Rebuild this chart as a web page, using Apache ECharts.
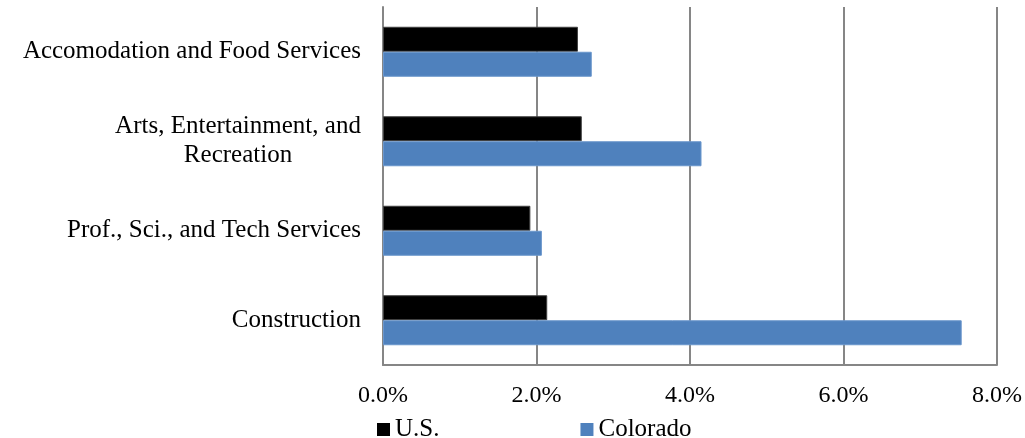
<!DOCTYPE html>
<html>
<head>
<meta charset="utf-8">
<title>Industry share</title>
<script src="https://cdn.jsdelivr.net/npm/echarts@6/dist/echarts.min.js"></script>
<style>
  html, body { margin: 0; padding: 0; background: #fff; }
  #main { width: 1025px; height: 438px; }
</style>
</head>
<body>
<div id="main"></div>
<script>
// categories, top to bottom
var categories = [
  'Accomodation and Food Services',
  'Arts, Entertainment, and\nRecreation',
  'Prof., Sci., and Tech Services',
  'Construction'
];
var usValues = [2.54, 2.59, 1.92, 2.14];
var coloradoValues = [2.72, 4.15, 2.07, 7.54];
var seriesNames = ['U.S.', 'Colorado'];

var font = '"Liberation Serif", "DejaVu Serif", serif';

var chart = echarts.init(document.getElementById('main'));
chart.setOption({
  animation: false,
  textStyle: { fontFamily: font },
  legend: {
    data: seriesNames,
    left: 372,
    top: 412,
    icon: 'rect',
    itemWidth: 13,
    itemHeight: 13,
    itemGap: 141,
    itemStyle: { borderWidth: 0 },
    textStyle: { color: '#000', fontSize: 25, fontFamily: font }
  },
  grid: {
    left: 383,
    right: 28,
    top: 7,
    bottom: 73,
    containLabel: false
  },
  xAxis: {
    type: 'value',
    min: 0,
    max: 8,
    interval: 2,
    axisLine: { show: true, lineStyle: { color: '#868686', width: 2 } },
    axisTick: { show: false },
    splitLine: { show: true, lineStyle: { color: '#868686', width: 2 } },
    axisLabel: {
      color: '#000',
      fontSize: 24,
      fontFamily: font,
      margin: 19,
      formatter: function (v) { return v.toFixed(1) + '%'; }
    }
  },
  yAxis: {
    type: 'category',
    inverse: true,
    data: categories,
    axisLine: { show: true, lineStyle: { color: '#868686', width: 2 } },
    axisTick: { show: false },
    axisLabel: {
      color: '#000',
      fontSize: 25,
      fontFamily: font,
      margin: 22,
      lineHeight: 29,
      formatter: function (v) {
        if (v.indexOf('\n') >= 0) {
          return v.split('\n').map(function (s) { return '{c|' + s + '}'; }).join('\n');
        }
        return v;
      },
      rich: {
        c: { width: 246, align: 'center', fontSize: 25, fontFamily: font, color: '#000', lineHeight: 29 }
      }
    }
  },
  series: [
    {
      name: seriesNames[0],
      type: 'bar',
      data: usValues,
      barWidth: 25,
      barGap: '0%',
      itemStyle: { color: '#000', borderColor: '#404040', borderWidth: 1 }
    },
    {
      name: seriesNames[1],
      type: 'bar',
      data: coloradoValues,
      barWidth: 25,
      barGap: '0%',
      itemStyle: { color: '#4F81BD', borderColor: '#6a96cc', borderWidth: 1 }
    }
  ]
});
</script>
</body>
</html>
